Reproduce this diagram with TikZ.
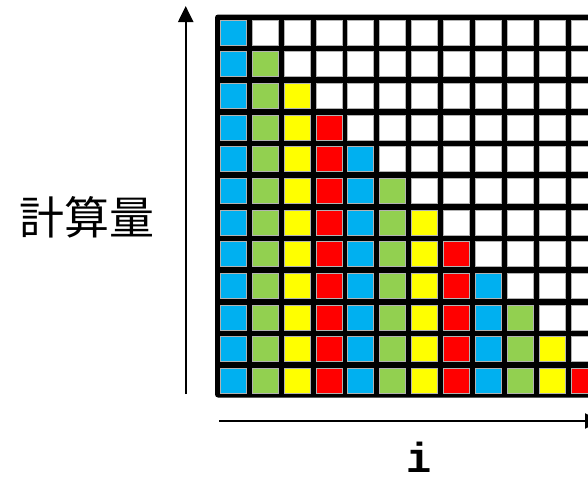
\documentclass[tikz,border=0pt]{standalone}
\usepackage{fontspec}
\usepackage{xcolor}
\usepackage{tikz}
\usetikzlibrary{arrows.meta}
\newfontfamily\jpfont{Noto Sans CJK JP}
\newfontfamily\idxfont{Liberation Mono}
\definecolor{tone0}{HTML}{00B0F0}
\definecolor{tone1}{HTML}{92D050}
\definecolor{tone2}{HTML}{FFFF00}
\definecolor{tone3}{HTML}{FF0000}
\definecolor{tone4}{HTML}{FFFFFF}

\begin{document}
\begin{tikzpicture}[x=1pt, y=-1pt,
  cell/.style={draw=black!30, line width=0.4pt},
  axis/.style={line width=2.2pt, -{Triangle[length=16pt, width=15pt]}},
  lbl/.style={inner sep=0pt}]
\useasboundingbox (0,0) rectangle (588,479);
\clip (0,0) rectangle (588,479);
% black frame behind the cells
\fill[rounded corners=3pt] (215,14.5) rectangle (603,397.5);
\foreach \r in {0,...,11}
  \foreach \c in {0,...,11}{
    \pgfmathtruncatemacro{\k}{\c>\r ? 4 : mod(\c,4)}
    \fill[cell, fill=tone\k] (220+31.9*\c, 19.8+31.67*\r) rectangle ++(26,25);
  }
% axes
\coordinate (ybot) at (185.7,394);
\coordinate (ytop) at (185.7,6);
\coordinate (xleft) at (219,421);
\coordinate (xright) at (601,421);
\draw[axis] (ybot) -- (ytop);
\draw[axis] (xleft) -- (xright);
\node[lbl, font=\jpfont\fontsize{45}{50}\selectfont] (cost) at (87,217) {計算量};
\node[lbl, anchor=base, font=\idxfont\bfseries\fontsize{42}{46}\selectfont] (idx) at (419,472) {i};
\end{tikzpicture}
\end{document}
